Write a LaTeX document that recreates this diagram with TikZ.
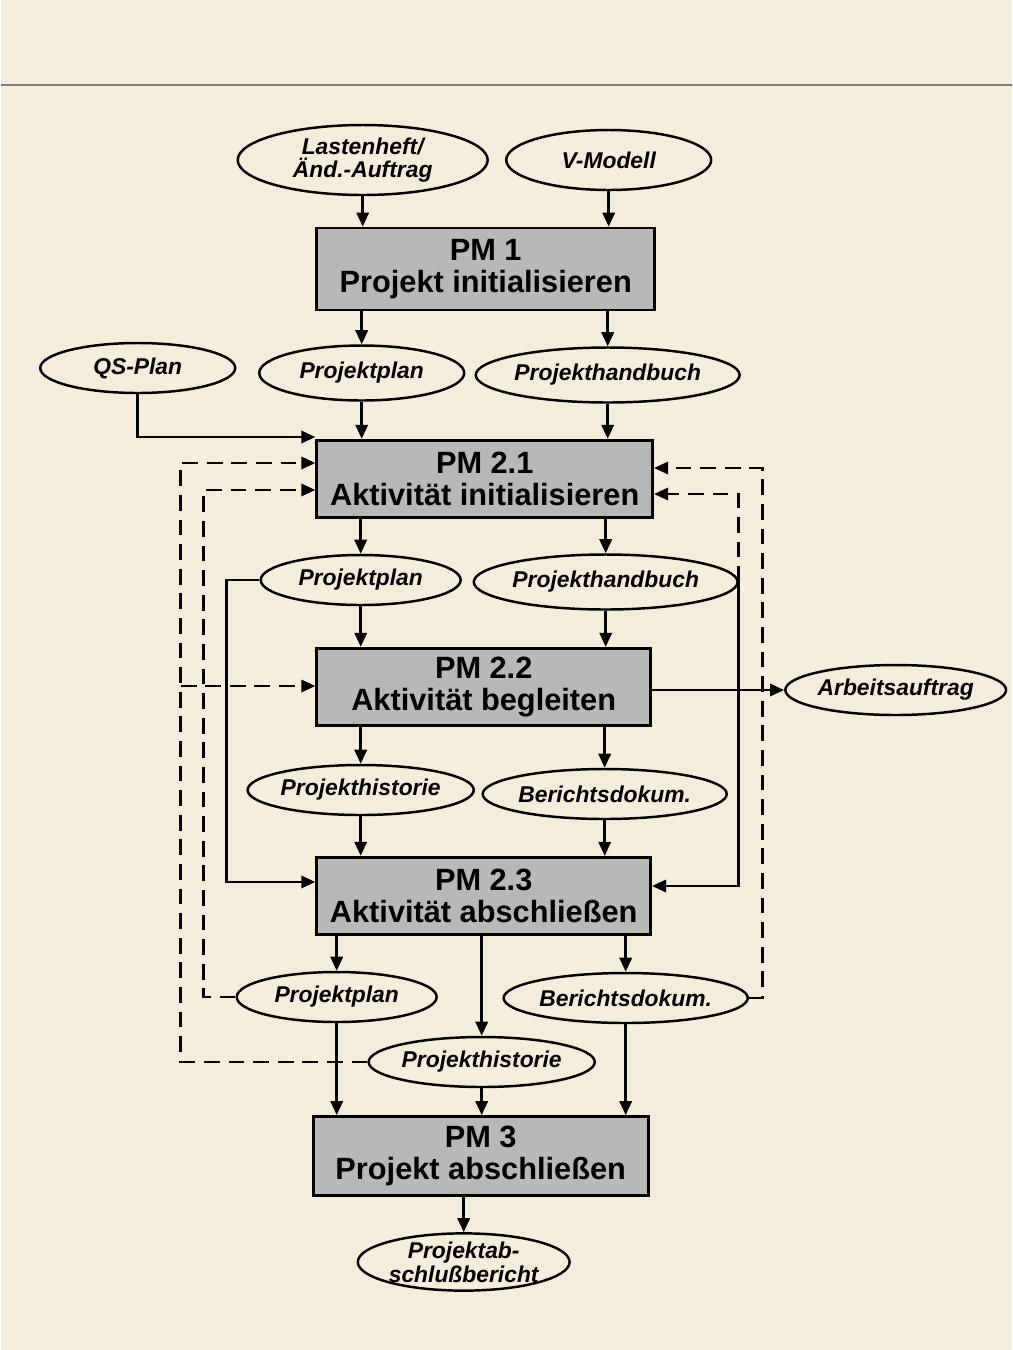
\documentclass[tikz,border=0pt]{standalone}
\usepackage{fontspec}
\setmainfont{Liberation Sans}
\usetikzlibrary{shapes.geometric,arrows.meta}
\definecolor{paper}{rgb}{0.96,0.93,0.86}
\begin{document}
\begin{tikzpicture}[x=0.02cm,y=-0.02cm,
 box/.style={draw,line width=1.6pt,fill=black!28,font=\fontsize{17.5}{18.5}\selectfont\bfseries,align=center,minimum height=1.55cm,inner sep=0pt},
 ell/.style={draw,ellipse,line width=1.4pt,fill=paper,font=\fontsize{13}{13.5}\selectfont\bfseries\itshape,align=center,inner sep=0pt,minimum height=1.0cm},
 ar/.style={line width=1.4pt,-{Triangle[length=8pt,width=7pt]}},
 da/.style={ar,dashed,dash pattern=on 9pt off 5pt},
 ln/.style={line width=1.4pt},
 dl/.style={ln,dash pattern=on 9pt off 5pt}]
\fill[paper] (0,0) rectangle (1011,1350);
\draw[line width=0.8pt,black!50] (0,85) -- (1011,85);
\useasboundingbox (0,0) rectangle (1011,1350);
% nodes
\node[ell,minimum width=5cm,minimum height=1.4cm] (lh) at (362,160) {Lastenheft/\\Änd.-Auftrag};
\node[ell,minimum width=4.1cm,minimum height=1.2cm] (vm) at (608,160) {V-Modell};
\node[box,minimum width=6.76cm,minimum height=1.64cm] (pm1) at (485,269) {PM 1\\Projekt initialisieren};
\node[ell,minimum width=3.9cm] (qs) at (137,368) {QS-Plan};
\node[ell,minimum width=4.1cm,minimum height=1.1cm] (pp1) at (361,373) {Projektplan};
\node[ell,minimum width=4.4cm,minimum height=1.1cm] (hb1) at (607,375) {Projekthandbuch};
\node[box,minimum width=6.72cm] (pm21) at (484,479) {PM 2.1\\Aktivität initialisieren};
\node[ell,minimum width=4.0cm] (pp2) at (360,580) {Projektplan};
\node[ell,minimum width=4.6cm,minimum height=1.1cm] (hb2) at (605,582) {Projekthandbuch};
\node[box,minimum width=6.68cm] (pm22) at (483,687) {PM 2.2\\Aktivität begleiten};
\node[ell,minimum width=4.1cm] (aa) at (895,690) {Arbeitsauftrag};
\node[ell,minimum width=4.1cm] (ph1) at (360,790) {Projekthistorie};
\node[ell,minimum width=4.1cm] (bd1) at (604,794) {Berichtsdokum.};
\node[box,minimum width=6.68cm] (pm23) at (483,896) {PM 2.3\\Aktivität abschließen};
\node[ell,minimum width=4.0cm] (pp3) at (336,997) {Projektplan};
\node[ell,minimum width=4.0cm] (bd3) at (625,998) {Berichtsdokum.};
\node[ell,minimum width=4.1cm] (ph3) at (481,1062) {Projekthistorie};
\node[box,minimum width=6.7cm,minimum height=1.58cm] (pm3) at (480,1156) {PM 3\\Projekt abschließen};
\node[ell,minimum width=3.8cm,minimum height=1.1cm] (ab) at (463,1262) {Projektab-\\schlußbericht};
% solid arrows
\draw[ar] (lh.south) -- (lh.south |- pm1.north);
\draw[ar] (vm.south) -- (vm.south |- pm1.north);
\draw[ar] (pm1.south -| pp1) -- (pp1.north);
\draw[ar] (pm1.south -| hb1) -- (hb1.north);
\draw[ar] (pp1.south) -- (pp1.south |- pm21.north);
\draw[ar] (hb1.south) -- (hb1.south |- pm21.north);
\coordinate (qsc) at (137,437);
\draw[ar] (qs.south) -- (qsc) -- (qsc -| pm21.west);
\draw[ar] (pm21.south -| pp2) -- (pp2.north);
\draw[ar] (pm21.south -| hb2) -- (hb2.north);
\draw[ar] (pp2.south) -- (pp2.south |- pm22.north);
\draw[ar] (hb2.south) -- (hb2.south |- pm22.north);
\coordinate (l1) at (226,580); \coordinate (l2) at (226,882);
\draw[ar] (pp2.west) -- (l1) -- (l2) -- (l2 -| pm23.west);
\coordinate (r1) at (738,582); \coordinate (r2) at (738,886);
\draw[ar] (hb2.east) -- (r1) -- (r2) -- (r2 -| pm23.east);
\draw[ar] (pm22.east |- aa) -- (aa.west);
\draw[ar] (pm22.south -| ph1) -- (ph1.north);
\draw[ar] (pm22.south -| bd1) -- (bd1.north);
\draw[ar] (ph1.south) -- (ph1.south |- pm23.north);
\draw[ar] (bd1.south) -- (bd1.south |- pm23.north);
\draw[ar] (pm23.south -| pp3) -- (pp3.north);
\draw[ar] (pm23.south -| bd3) -- (bd3.north);
\draw[ar] (pm23.south -| ph3) -- (ph3.north);
\draw[ar] (pp3.south) -- (pp3.south |- pm3.north);
\draw[ar] (ph3.south) -- (ph3.south |- pm3.north);
\draw[ar] (bd3.south) -- (bd3.south |- pm3.north);
\draw[ar] (pm3.south -| ab) -- (ab.north);
% dashed feedback
\coordinate (o1) at (180,1062); \coordinate (o2) at (180,463); \coordinate (o3) at (180,686);
\draw[da] (ph3.west) -- (o1) -- (o2) -- (o2 -| pm21.west);
\draw[da] (o3) -- (o3 -| pm22.west);
\coordinate (i1) at (203,997); \coordinate (i2) at (203,490);
\draw[da] (pp3.west) -- (i1) -- (i2) -- (i2 -| pm21.west);
\coordinate (e1) at (762,998); \coordinate (e2) at (762,468);
\draw[da] (bd3.east) -- (e1) -- (e2) -- (e2 -| pm21.east);
\coordinate (f2) at (738,494);
\draw[da] (r1) -- (f2) -- (f2 -| pm21.east);
\end{tikzpicture}
\end{document}
